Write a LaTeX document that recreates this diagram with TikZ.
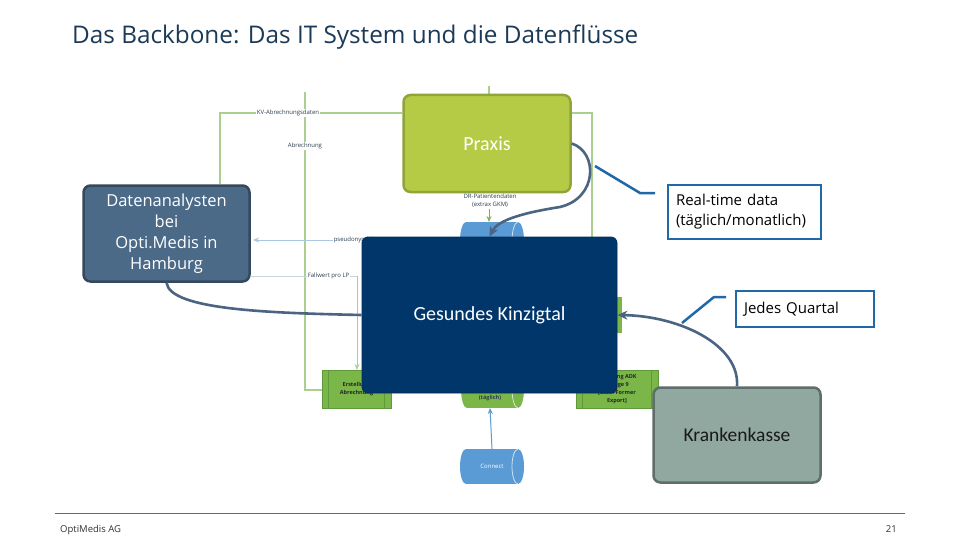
\documentclass[tikz,border=0pt]{standalone}
\usepackage{fontspec}
\setmainfont{Open Sans}
\newfontfamily\boxfont{Carlito}
\usetikzlibrary{arrows.meta}
\definecolor{titleblue}{HTML}{1B3A57}
\definecolor{praxisfill}{HTML}{B5CB46}
\definecolor{praxisdraw}{HTML}{8FA53A}
\definecolor{datafill}{HTML}{4B6A88}
\definecolor{datadraw}{HTML}{34495E}
\definecolor{gkfill}{HTML}{00366A}
\definecolor{kkfill}{HTML}{90A8A0}
\definecolor{kkdraw}{HTML}{5E6E6A}
\definecolor{callblue}{HTML}{1F69A8}
\definecolor{flowgray}{HTML}{4A6482}
\definecolor{bggreen}{HTML}{AACF8E}
\definecolor{bgblue}{HTML}{A9C8E4}
\definecolor{bggray}{HTML}{C9D3DA}
\definecolor{boxgreen}{HTML}{7AB648}
\definecolor{boxgreendark}{HTML}{5E9A3A}
\definecolor{cylblue}{HTML}{5B9BD5}
\definecolor{footgray}{HTML}{5F6E7C}
\definecolor{tinytext}{HTML}{2E3E50}
\newcommand\myhcyl[5]{%
  \fill[#5] ({#1+6},#2) rectangle ({#3-6},#4);
  \fill[#5] ({#1+6},{(#2+#4)/2}) ellipse [x radius=6, y radius={(#4-#2)/2}];
  \fill[#5] ({#3-6},{(#2+#4)/2}) ellipse [x radius=6, y radius={(#4-#2)/2}];
  \draw[white!70!#5, line width=0.8pt] ({#3-6},#2) arc[start angle=270, end angle=90, x radius=6, y radius={(#4-#2)/2}];
}
\tikzset{
  bgline/.style={draw=bggreen, line width=1.2pt},
  tinylabel/.style={font=\fontsize{6}{8}\selectfont, text=tinytext, inner sep=0.6pt},
  greenbox/.style={fill=boxgreen, draw=boxgreendark, line width=0.6pt, inner sep=0pt,
    font=\bfseries\fontsize{5.5}{8}\selectfont, text=black!85, align=center},
  mainbox/.style={rounded corners=7pt, line width=2.5pt, inner sep=0pt, align=center},
  callout/.style={draw=callblue, line width=2.5pt, fill=white, align=left, inner ysep=0pt,
    inner xsep=8pt, font=\fontsize{15}{20}\selectfont, text=black},
  calloutline/.style={draw=callblue, line width=2.5pt},
  flowline/.style={draw=flowgray, line width=2.6pt},
  flowarrow/.style={flowline, -{Stealth[length=10pt, width=9pt]}},
}
\begin{document}
\begin{tikzpicture}[x=1pt,y=-1pt]
\useasboundingbox (0,0) rectangle (960,540);
\fill[white] (0,0) rectangle (960,540);

% title
\node[anchor=base west, inner sep=0pt, font=\fontsize{24.3}{29}\selectfont, text=titleblue] (title) at (72,44)
  {Das Backbone: Das IT System und die Datenflüsse};

% ---------- faint background flowchart ----------
\draw[bgline] (220,184) -- (220,113) -- (402,113);
\draw[bgline] (572,113) -- (592,113) -- (592,237);
\draw[bgline, line width=2pt] (305,92) -- (305,390) -- (322,390);
\draw[bgline] (489,86) -- (489,96);
\node[tinylabel, fill=white] (kvtext) at (288,113) {KV-Abrechnungsdaten};
\node[tinylabel, fill=white] (abtext) at (305,146) {Abrechnung};

\draw[draw=bgblue, line width=1pt, -{Stealth[length=6pt,width=5pt]}] (362,240) -- (253,240);
\node[tinylabel, fill=white, anchor=west] (pstext) at (333,240) {pseudonymisiert};
\draw[draw=bggray, line width=1pt] (251,276) -- (357,276);
\draw[bgline, line width=1pt, -{Stealth[length=6pt,width=5pt]}] (357,276) -- (357,370);
\node[tinylabel, fill=white, anchor=west] (fwtext) at (307,276) {Fallwert pro LP};

% DR data cylinder
\myhcyl{460}{222}{524}{260}{cylblue}
\node[tinylabel, align=center] (drtext) at (490,201) {DR-Patientendaten\\(extrax GKM)};
\coordinate (drcyl) at (489,222);
\draw[draw=boxgreen, line width=1pt, -{Stealth[length=6pt,width=5pt]}] (drtext.south -| drcyl) -- (drcyl);

% green boxes
\node[greenbox, minimum width=69pt, minimum height=38pt] (erst) at (356.5,389) {Erstellung\\Abrechnung};
\draw[boxgreendark, line width=0.6pt] ([xshift=7pt]erst.north west) -- ([xshift=7pt]erst.south west)
  ([xshift=-7pt]erst.north east) -- ([xshift=-7pt]erst.south east);
\node[greenbox, minimum width=82pt, minimum height=38pt] (adk) at (617,389)
  {Lieferung ADK\\Anlage 9\\{[Excel-Former}\\Export]};
\draw[boxgreendark, line width=0.6pt] ([xshift=7pt]adk.north west) -- ([xshift=7pt]adk.south west)
  ([xshift=-7pt]adk.north east) -- ([xshift=-7pt]adk.south east);
\fill[boxgreen] (600,297) rectangle (622,333);
\myhcyl{461}{370}{524}{408}{boxgreen}
\node[tinylabel, font=\bfseries\fontsize{5.5}{8}\selectfont] (tgl) at (490,398) {(täglich)};

% Connect cylinder
\myhcyl{460}{449}{524}{484}{cylblue}
\node[tinylabel, text=white, minimum width=64pt, minimum height=35pt] (connect) at (492,466.5) {Connect};
\coordinate (tglbottom) at (490,408);
\draw[draw=cylblue, line width=1pt, -{Stealth[length=6pt,width=5pt]}] (connect.north) -- (tglbottom);

% ---------- main boxes ----------
\node[mainbox, fill=praxisfill, draw=praxisdraw, minimum width=167pt, minimum height=97pt,
  font=\boxfont\fontsize{20}{24}\selectfont, text=white] (praxis) at (487,143.5) {Praxis};
\node[mainbox, fill=datafill, draw=datadraw, minimum width=166pt, minimum height=96pt,
  font=\fontsize{16.5}{21}\selectfont, text=white] (daten) at (166.5,233.5)
  {Datenanalysten\\bei\\Opti.Medis in\\Hamburg};
\node[mainbox, rounded corners=6pt, fill=gkfill, draw=gkfill!85!black, line width=0.8pt,
  minimum width=255pt, minimum height=156pt,
  font=\boxfont\fontsize{20}{24}\selectfont, text=white] (gk) at (489.5,315) {Gesundes Kinzigtal};
\node[mainbox, fill=kkfill, draw=kkdraw, minimum width=167pt, minimum height=95pt,
  font=\boxfont\fontsize{19.5}{24}\selectfont, text=black!90] (kk) at (737,435) {Krankenkasse};

% ---------- data flows ----------
\draw[flowarrow] (praxis.east) .. controls (598,152) and (598,198) .. (560,207)
  .. controls (515,214) and (497,222) .. (gk.north);
\draw[flowline] (gk.west) .. controls (270,313) and (170,310) .. (daten.south);
\draw[flowarrow] (kk.north) .. controls (740,345) and (680,316) .. (gk.east);

% ---------- callouts ----------
\node[callout, minimum width=153pt, minimum height=54pt, text width=137pt] (rt) at (744.5,212)
  {Real-time data\\(täglich/monatlich)};
\coordinate (rta) at (595,166);
\coordinate (rtb) at (640,193);
\coordinate (rtc) at (655,193);
\draw[calloutline] (rta) -- (rtb) -- (rtc);
\node[callout, minimum width=138pt, minimum height=36pt, text width=122pt] (jq) at (805,309)
  {Jedes Quartal};
\coordinate (jqa) at (682,323);
\coordinate (jqb) at (714,297);
\coordinate (jqc) at (726,297);
\draw[calloutline] (jqa) -- (jqb) -- (jqc);

% ---------- footer ----------
\coordinate (fl) at (55,513);
\coordinate (fr) at (905,513);
\draw[footgray, line width=0.8pt] (fl) -- (fr);
\node[anchor=base west, inner sep=0pt, font=\fontsize{9.5}{11}\selectfont, text=black!80] (foot) at (60,532) {OptiMedis AG};
\node[anchor=base east, inner sep=0pt, font=\fontsize{9.5}{11}\selectfont, text=black!80] (page) at (897,532) {21};
\end{tikzpicture}
\end{document}
